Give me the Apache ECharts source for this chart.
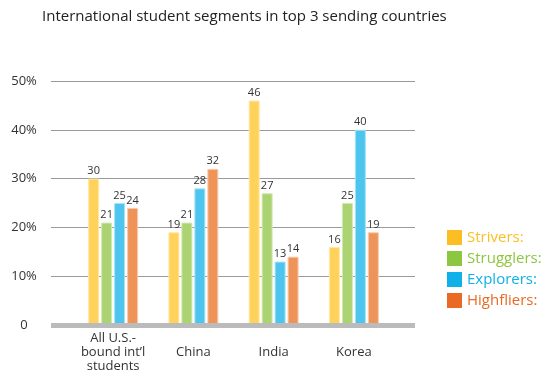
<!DOCTYPE html>
<html>
<head>
<meta charset="utf-8">
<script src="https://cdn.jsdelivr.net/npm/echarts@6/dist/echarts.min.js"></script>
<style>html,body{margin:0;padding:0;background:#fff;}#c{width:554px;height:378px;}</style>
</head>
<body>
<div id="c"></div>
<script>
const categories = ['All U.S.-\nbound int\u2019l\nstudents', 'China', 'India', 'Korea'];
const seriesNames = ['Strivers:', 'Strugglers:', 'Explorers:', 'Highfliers:'];
const strivers = [30, 19, 46, 16];
const strugglers = [21, 21, 27, 25];
const explorers = [25, 28, 13, 40];
const highfliers = [24, 32, 14, 19];
const yTicks = [0, 10, 20, 30, 40, 50];

const barFill = ['#FFD25C', '#ACD371', '#4DC5EE', '#EF9459'];
const barBorder = ['#FFE8A6', '#D3E9B4', '#A9E2F6', '#F8CBAE'];
const legendColors = ['#FDBE23', '#8DC63F', '#10B1E8', '#EA6A25'];
const values = [strivers, strugglers, explorers, highfliers];
const FONT = '"Open Sans", sans-serif';

const chart = echarts.init(document.getElementById('c'), null, {renderer: 'canvas'});
chart.setOption({
  animation: false,
  title: {
    text: 'International student segments in top 3 sending countries',
    left: 37, top: 4,
    textStyle: {fontSize: 15, fontWeight: 'normal', color: '#222', fontFamily: FONT}
  },
  legend: {
    orient: 'vertical', left: 442, top: 225,
    itemWidth: 15, itemHeight: 15, itemGap: 6, icon: 'rect',
    data: seriesNames.map((n, i) => ({
      name: n,
      itemStyle: {color: legendColors[i], borderWidth: 0},
      textStyle: {color: legendColors[i], fontSize: 15, fontFamily: FONT}
    }))
  },
  grid: [
    {left: 51, right: 139, top: 81, bottom: 53},
    {left: 73, right: 160, top: 81, bottom: 53}
  ],
  xAxis: [
    {gridIndex: 0, type: 'value', min: 0, max: 1, z: 10,
     axisLine: {show: true, lineStyle: {color: '#BBBBBB', width: 5, cap: 'butt'}},
     axisTick: {show: false}, axisLabel: {show: false}, splitLine: {show: false}},
    {gridIndex: 1, type: 'category', data: categories,
     axisLine: {show: false}, axisTick: {show: false}, splitLine: {show: false},
     axisLabel: {margin: 27, verticalAlign: 'middle', lineHeight: 14, fontSize: 13,
                 color: '#333', fontFamily: FONT, interval: 0}}
  ],
  yAxis: [
    {gridIndex: 0, type: 'value', min: yTicks[0], max: yTicks[yTicks.length - 1], interval: 10,
     axisLine: {show: false}, axisTick: {show: false},
     splitLine: {lineStyle: {color: '#9A9A9A', width: 1}},
     axisLabel: {margin: 27, align: 'center', fontSize: 13, color: '#333', fontFamily: FONT,
                 formatter: v => v === 0 ? '0' : v + '%'}},
    {gridIndex: 1, type: 'value', min: 0, max: 50, show: false}
  ],
  series: seriesNames.map((n, i) => ({
    name: n, type: 'bar', xAxisIndex: 1, yAxisIndex: 1,
    data: values[i], barWidth: 11, barGap: '18%',
    itemStyle: {color: barFill[i], borderColor: barBorder[i], borderWidth: 1},
    label: {show: true, position: 'top', distance: 2, fontSize: 11, color: '#333', fontFamily: FONT}
  }))
});
</script>
</body>
</html>
